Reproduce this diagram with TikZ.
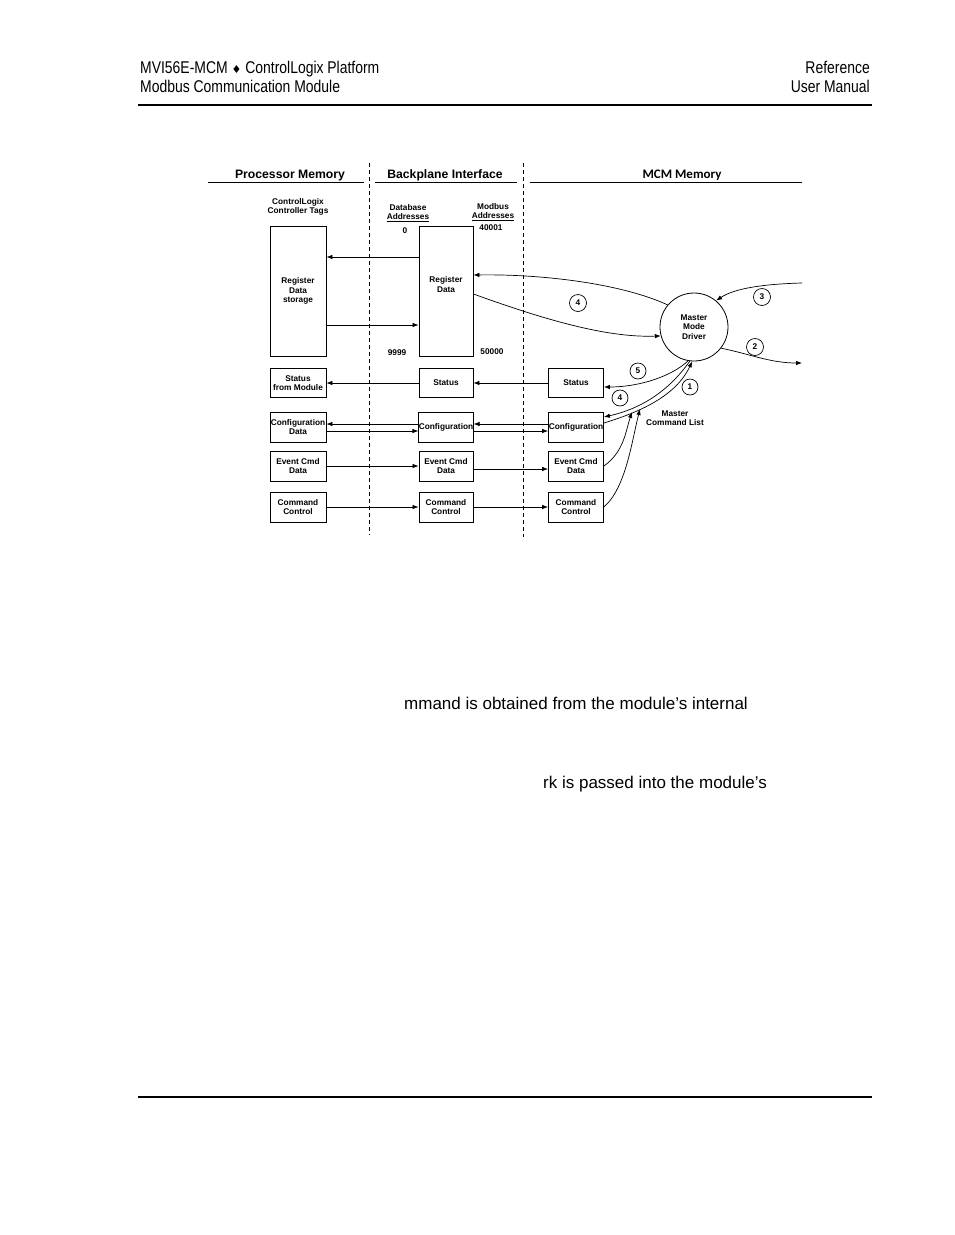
\documentclass[tikz,border=0pt]{standalone}
\usepackage{fontspec}
\setmainfont{Liberation Sans}
\newfontfamily\narrowfont[FakeStretch=0.82]{Liberation Sans}
\newfontfamily\symfont{DejaVu Sans}
\newfontfamily\calfont{Carlito}
\usetikzlibrary{arrows.meta}
\newcommand\boxfont{\bfseries\fontsize{8.3}{9.5}\selectfont}
\newcommand\headfont{\bfseries\fontsize{12.2}{14}\selectfont}
\newcommand\pagefont{\narrowfont\fontsize{17}{20}\selectfont}
\tikzset{
  box/.style={draw, line width=0.8pt, inner sep=0pt, align=center, font=\boxfont},
  num/.style={draw, circle, line width=0.7pt, minimum size=17pt, inner sep=0pt, font=\boxfont},
  link/.style={-{Latex[length=6pt,width=4.5pt]}, line width=0.7pt},
  divider/.style={dash pattern=on 4pt off 3pt, line width=0.8pt},
  caption/.style={font=\boxfont, align=center, inner sep=0pt}
}
\begin{document}
\begin{tikzpicture}[x=1pt,y=-1pt]
  \useasboundingbox (0,0) rectangle (954,1235);
  \fill[white] (0,0) rectangle (954,1235);
  % page header and footer
  \node[anchor=base west, inner sep=0pt, font=\pagefont] (title) at (140,73)
    {MVI56E-MCM {\symfont\fontsize{11}{13}\selectfont ♦} ControlLogix Platform};
  \node[anchor=base west, inner sep=0pt, font=\pagefont] (subtitle) at (140,92) {Modbus Communication Module};
  \node[anchor=base east, inner sep=0pt, font=\pagefont] (reference) at (870,73) {Reference};
  \node[anchor=base east, inner sep=0pt, font=\pagefont] (manual) at (870,92) {User Manual};
  \draw[line width=1.2pt] (138,105) -- (872,105);
  \draw[line width=1.2pt] (138,1097) -- (872,1097);
  % column headings
  \node[anchor=base, inner sep=0pt, font=\headfont] (procmem) at (290,178) {Processor Memory};
  \node[anchor=base, inner sep=0pt, font=\headfont] (backplane) at (445,178) {Backplane Interface};
  \node[anchor=base, inner sep=0pt, font=\calfont\bfseries\fontsize{13}{15}\selectfont] (mcmmem) at (682,178) {MCM Memory};
  \draw[line width=0.8pt] (208,182) -- (364,182);
  \draw[line width=0.8pt] (375,182) -- (517,182);
  \draw[line width=0.8pt] (530,182) -- (802,182);
  \draw[divider] (369,163) -- (369,535);
  \draw[divider] (523,163) -- (523,537);
  % address labels
  \node[caption] (tags) at (298,207) {ControlLogix\\Controller Tags};
  \node[caption] (dbaddr) at (408,213) {Database\\\underline{Addresses}};
  \node[caption] (mbaddr) at (493,212) {Modbus\\\underline{Addresses}};
  \node[caption] (first) at (405,231) {0};
  \node[caption] (mbfirst) at (491,228) {40001};
  \node[caption] (last) at (397,353) {9999};
  \node[caption] (mblast) at (492,352) {50000};
  % register blocks
  \node[box, minimum width=56, minimum height=130] (tagstore) at (298,291) {Register\\Data\\storage};
  \node[box, minimum width=54, minimum height=130] (regdata) at (446,291) {Register\\Data\\[4pt]};
  \draw[link] ([yshift=34]regdata.west) -- ([yshift=34]tagstore.east);
  \draw[link] ([yshift=-34]tagstore.east) -- ([yshift=-34]regdata.west);
  % status
  \node[box, minimum width=56, minimum height=29] (stleft) at (298,383) {Status\\from Module};
  \node[box, minimum width=54, minimum height=29] (stmid) at (446,383) {Status};
  \node[box, minimum width=55, minimum height=29] (stright) at (576,383) {Status};
  \draw[link] (stmid) -- (stleft);
  \draw[link] (stright) -- (stmid);
  % configuration
  \node[box, minimum width=56, minimum height=30] (cfleft) at (298,427) {Configuration\\Data};
  \node[box, minimum width=54, minimum height=30] (cfmid) at (446,427) {Configuration};
  \node[box, minimum width=55, minimum height=30] (cfright) at (576,427) {Configuration};
  \draw[link] ([yshift=3]cfmid.west) -- ([yshift=3]cfleft.east);
  \draw[link] ([yshift=-4]cfleft.east) -- ([yshift=-4]cfmid.west);
  \draw[link] ([yshift=3]cfright.west) -- ([yshift=3]cfmid.east);
  \draw[link] ([yshift=-4]cfmid.east) -- ([yshift=-4]cfright.west);
  % event commands
  \node[box, minimum width=56, minimum height=30] (evleft) at (298,466) {Event Cmd\\Data};
  \node[box, minimum width=54, minimum height=30] (evmid) at (446,466) {Event Cmd\\Data};
  \node[box, minimum width=55, minimum height=30] (evright) at (576,466) {Event Cmd\\Data};
  \draw[link] (evleft) -- (evmid);
  \draw[link] ([yshift=-3]evmid.east) -- ([yshift=-3]evright.west);
  % command control
  \node[box, minimum width=56, minimum height=30] (cmleft) at (298,507) {Command\\Control};
  \node[box, minimum width=54, minimum height=30] (cmmid) at (446,507) {Command\\Control};
  \node[box, minimum width=55, minimum height=30] (cmright) at (576,507) {Command\\Control};
  \draw[link] (cmleft) -- (cmmid);
  \draw[link] (cmmid) -- (cmright);
  % master driver
  \node[draw, circle, line width=0.8pt, minimum size=68pt, inner sep=0pt, align=center, font=\boxfont] (driver) at (694,327) {Master\\Mode\\Driver};
  \coordinate (in3) at (802,283);
  \coordinate (out2) at (802,363);
  \coordinate (evtip) at (632,412);
  \coordinate (cmtip) at (640,409);
  \draw[link] (driver.140) .. controls (620,283) and (540,274) .. ([yshift=16]regdata.east);
  \draw[link] ([yshift=-3]regdata.east) .. controls (540,318) and (605,338) .. (driver.195);
  \draw[link] (in3) .. controls (765,284) and (735,288) .. (driver.50);
  \draw[link] (driver.-38) .. controls (750,354) and (770,363) .. (out2);
  \draw[link] (driver.-100) .. controls (672,376) and (640,387) .. ([yshift=-4]stright.east);
  \draw[link] (driver.-97) .. controls (668,392) and (640,409) .. ([yshift=10]cfright.east);
  \draw[link] ([yshift=4]cfright.east) .. controls (640,412) and (676,396) .. (driver.-93);
  \draw[link] (evright.east) .. controls (624,452) and (626,430) .. (evtip);
  \draw[link] (cmright.east) .. controls (626,488) and (632,440) .. (cmtip);
  % step numbers
  \node[num] (step4a) at (578,303) {4};
  \node[num] (step3) at (762,297) {3};
  \node[num] (step2) at (755,347) {2};
  \node[num, minimum size=16pt] (step5) at (638,371) {5};
  \node[num, minimum size=16pt] (step4b) at (620,398) {4};
  \node[num, minimum size=16pt] (step1) at (690,387) {1};
  \node[caption] (cmdlist) at (675,418) {Master\\Command List};
  % body text
  \node[anchor=base west, inner sep=0pt, font=\fontsize{17}{20}\selectfont] (bodyone) at (404,709) {mmand is obtained from the module’s internal};
  \node[anchor=base west, inner sep=0pt, font=\fontsize{17}{20}\selectfont] (bodytwo) at (543,788) {rk is passed into the module’s};
\end{tikzpicture}
\end{document}
